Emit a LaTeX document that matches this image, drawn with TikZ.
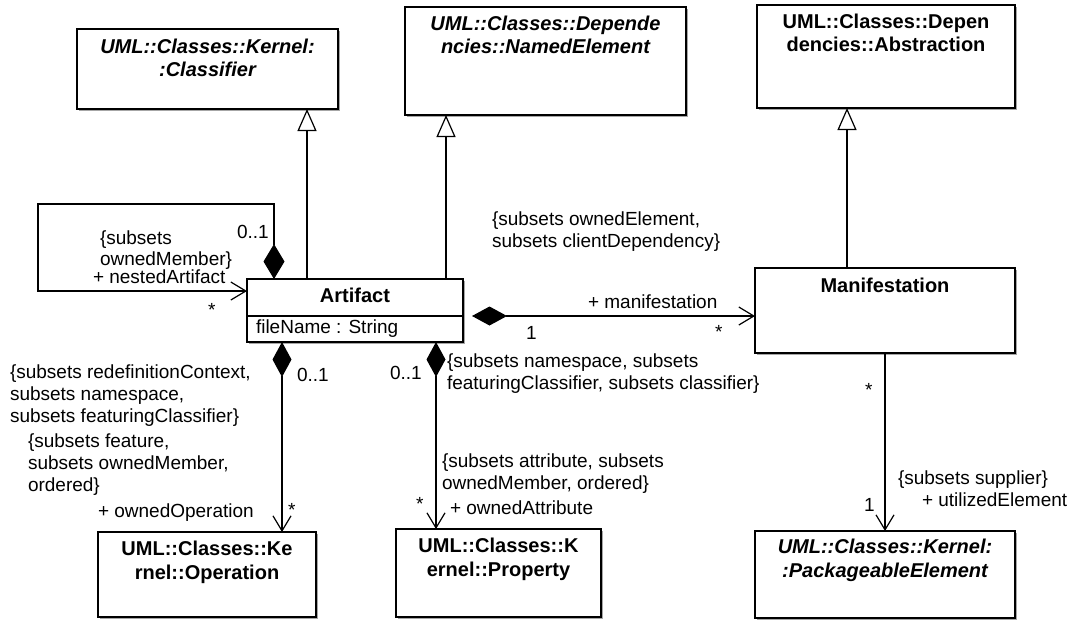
\documentclass[tikz,border=0pt]{standalone}
\usepackage{fontspec}
\setmainfont{Liberation Sans}
\usetikzlibrary{arrows.meta,calc,shadows}
\begin{document}
\begin{tikzpicture}[x=1pt,y=-1pt,
  every node/.style={inner sep=0pt,outer sep=0pt},
  lbl/.style={font=\fontsize{19}{22}\selectfont, align=left},
  clsbox/.style={draw, line width=1.2pt, fill=white, anchor=north west,
    drop shadow={shadow xshift=2pt, shadow yshift=-2pt, fill=black!35, opacity=1}},
  clsname/.style={font=\fontsize{20}{23.5}\selectfont\bfseries, align=center, anchor=north},
  absname/.style={clsname, font=\fontsize{20}{23.5}\selectfont\bfseries\itshape},
  gen/.style={line width=1.2pt, -{Triangle[open, length=22pt, width=19pt, fill=white]}},
  comp/.style={line width=1.2pt, {Diamond[length=35pt, width=19pt]}-{Straight Barb[length=15pt, width=18pt]}},
  nav/.style={line width=1.2pt, -{Straight Barb[length=15pt, width=18pt]}}
]
\useasboundingbox[fill=white] (0,0) rectangle (1076,619);

% class boxes
\node[clsbox, minimum width=261pt, minimum height=80pt] (clsf) at (77,29) {};
\node[clsbox, minimum width=281pt, minimum height=108pt] (named) at (405,7) {};
\node[clsbox, minimum width=258pt, minimum height=103pt] (abst) at (757,5) {};
\node[clsbox, minimum width=216pt, minimum height=63pt] (art) at (247,279) {};
\node[clsbox, minimum width=260pt, minimum height=85pt] (man) at (755,268) {};
\node[clsbox, minimum width=218pt, minimum height=85pt] (opr) at (98,532) {};
\node[clsbox, minimum width=205pt, minimum height=88pt] (prop) at (396,529) {};
\node[clsbox, minimum width=260pt, minimum height=87pt] (pkg) at (755,531) {};

% class names
\node[absname] (clsfT) at ($(clsf.north)+(0,10)$) {UML::Classes::Kernel:\\:Classifier};
\node[absname] (namedT) at ($(named.north)+(0,9)$) {UML::Classes::Depende\\ncies::NamedElement};
\node[clsname] (abstT) at ($(abst.north)+(0,9)$) {UML::Classes::Depen\\dencies::Abstraction};
\node[clsname] (oprT) at ($(opr.north)+(0,9)$) {UML::Classes::Ke\\rnel::Operation};
\node[clsname] (propT) at ($(prop.north)+(0,9)$) {UML::Classes::K\\ernel::Property};
\node[absname] (pkgT) at ($(pkg.north)+(0,8)$) {UML::Classes::Kernel:\\:PackageableElement};
\node[clsname] (artT) at ($(art.north)+(0,9)$) {Artifact};
\node[clsname] (manT) at ($(man.north)+(0,10)$) {Manifestation};

% Artifact compartment
\coordinate (divy) at (0,316);
\draw[line width=1.2pt] (art.west |- divy) -- (art.east |- divy);
\node[lbl, anchor=west] (attr) at (256,329) {fileName : String};

% generalizations
\coordinate (g1) at (307,0);
\coordinate (g2) at (446,0);
\coordinate (g3) at (847,0);
\draw[gen] (art.north -| g1) -- (clsf.south -| g1);
\draw[gen] (art.north -| g2) -- (named.south -| g2);
\draw[gen] (man.north -| g3) -- (abst.south -| g3);

% self loop
\coordinate (lpA) at (274,204);
\coordinate (lpB) at (38,204);
\coordinate (lpC) at (38,291);
\draw[line width=1.2pt, {Diamond[length=35pt, width=21pt]}-{Straight Barb[length=15pt, width=18pt]}]
  (art.north -| lpA) -- (lpA) -- (lpB) -- (lpC) -- (art.west |- lpC);
\node[lbl, anchor=west] (l01a) at (237,232) {0..1};
\node[lbl, font=\fontsize{19}{20.5}\selectfont, anchor=north west] (lsub1) at (100,231) {\{subsets\\ownedMember\}};
\node[lbl, anchor=west] (lnest) at (93,277) {+ nestedArtifact};
\node[lbl, anchor=north west] (lstar1) at (208,303) {*};

% manifestation
\coordinate (my) at (0,316);
\draw[comp, shorten <=9pt] (art.east |- my) -- (man.west |- my);
\node[lbl, anchor=north west] (lsub2) at (492,212) {\{subsets ownedElement,\\subsets clientDependency\}};
\node[lbl, anchor=west] (lman) at (588,302) {+ manifestation};
\node[lbl, anchor=west] (l1a) at (526,333) {1};
\node[lbl, anchor=north west] (lstar2) at (715,325) {*};

% owned operation
\coordinate (ox) at (282,0);
\draw[comp] (art.south -| ox) -- (opr.north -| ox);
\node[lbl, anchor=north west] (lsub3) at (10,365) {\{subsets redefinitionContext,\\subsets namespace,\\subsets featuringClassifier\}};
\node[lbl, anchor=north west] (lsub4) at (28,434) {\{subsets feature,\\subsets ownedMember,\\ordered\}};
\node[lbl, anchor=west] (lop) at (98,513) {+ ownedOperation};
\node[lbl, anchor=west] (l01b) at (297,375) {0..1};
\node[lbl, anchor=north west] (lstar3) at (288,503) {*};

% owned attribute
\coordinate (px) at (436,0);
\draw[comp] (art.south -| px) -- (prop.north -| px);
\node[lbl, anchor=west] (l01c) at (390,373) {0..1};
\node[lbl, anchor=north west] (lsub5) at (447,354) {\{subsets namespace, subsets\\featuringClassifier, subsets classifier\}};
\node[lbl, anchor=north west] (lsub6) at (442,454) {\{subsets attribute, subsets\\ownedMember, ordered\}};
\node[lbl, anchor=west] (lattr) at (450,508) {+ ownedAttribute};
\node[lbl, anchor=north west] (lstar4) at (416,497) {*};

% utilized element
\coordinate (mx) at (885,0);
\draw[nav] (man.south -| mx) -- (pkg.north -| mx);
\node[lbl, anchor=north west] (lstar5) at (865,383) {*};
\node[lbl, anchor=west] (lsup) at (898,480) {\{subsets supplier\}};
\node[lbl, anchor=west] (lutil) at (922,500) {+ utilizedElement};
\node[lbl, anchor=west] (l1b) at (864,505) {1};
\end{tikzpicture}
\end{document}
